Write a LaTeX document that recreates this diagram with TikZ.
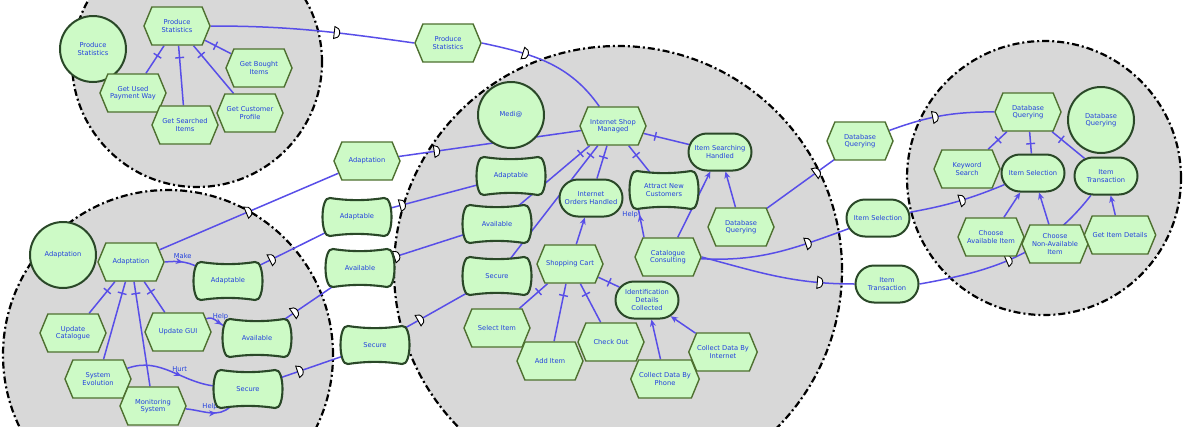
\documentclass[tikz,border=0pt]{standalone}
\usepackage{fontspec}
\newfontfamily\lblfont{DejaVu Sans}
\usetikzlibrary{shapes.symbols,shapes.misc,arrows.meta,decorations.markings}
\pgfdeclarelayer{bg}
\pgfdeclarelayer{links}
\pgfsetlayers{bg,links,main}

\definecolor{nodegreen}{RGB}{205,250,198}
\definecolor{boundgray}{RGB}{216,216,216}
\definecolor{gdark}{RGB}{42,72,40}
\definecolor{tolive}{RGB}{78,112,48}
\definecolor{linkblue}{RGB}{88,78,232}
\definecolor{txtblue}{RGB}{34,64,222}

\tikzset{
  nodetext/.style={font=\lblfont\fontsize{6.7}{7.6}\selectfont, text=txtblue, align=center},
  boundary/.style={draw=black, line width=2.2pt, fill=boundgray,
    dash pattern=on 7pt off 3pt on 2pt off 3pt},
  actor/.style={nodetext, circle, draw=gdark, line width=2pt, fill=nodegreen,
    minimum size=66pt, inner sep=0pt},
  task/.style={nodetext, signal, signal to=east and west, signal pointer angle=135,
    draw=tolive, line width=1.4pt, fill=nodegreen,
    minimum width=66pt, minimum height=38pt, inner sep=0.5pt},
  goal/.style={nodetext, rounded rectangle, draw=gdark, line width=2pt, fill=nodegreen,
    minimum width=64pt, minimum height=37pt, inner sep=0.5pt},
  sgshape/.style={draw=gdark, line width=2.1pt, fill=nodegreen},
  sgbox/.style={nodetext, rectangle, minimum width=62pt, minimum height=34pt, inner sep=0pt},
  lbl/.style={nodetext, inner sep=1pt},
  link/.style={draw=linkblue, line width=1.5pt},
  deplink/.style={link, postaction={decorate, decoration={markings,
    mark=at position #1 with {\draw[black, line width=0.9pt, fill=white]
      (-3pt,-6pt) -- (-3pt,6pt) arc[start angle=90, end angle=-90, x radius=5.5pt, y radius=6pt] -- cycle;}}}},
  decomp/.style={link, postaction={decorate, decoration={markings,
    mark=at position -12pt with {\draw[linkblue, line width=1.4pt] (0,-4.5pt) -- (0,4.5pt);}}}},
  meansend/.style={link, -{Stealth[length=7pt,width=6pt]}},
  contrib/.style={link, postaction={decorate, decoration={markings,
    mark=at position #1 with {\arrow{Stealth[length=7pt,width=6pt]}}}}},
}

% softgoal: wavy box drawn under a named text node
\newcommand\sgoal[3]{%
  \begin{scope}[shift={#2}]
    \path[sgshape] (-27,19) .. controls (-9,16.2) and (9,16.2) .. (27,19)
      .. controls (37,21) and (37,-21) .. (27,-19)
      .. controls (9,-16.2) and (-9,-16.2) .. (-27,-19)
      .. controls (-37,-21) and (-37,21) .. cycle;
  \end{scope}
  \node[sgbox] (#1) at #2 {#3};}

\begin{document}
\begin{tikzpicture}[x=1pt,y=1pt]
\useasboundingbox (0,0) rectangle (1186,-426);

% actor boundaries
\begin{pgfonlayer}{bg}
  \fill[white] (0,0) rectangle (1186,-426);
  \path[boundary] (197,-62) circle[radius=125pt];
  \path[boundary] (168,-355) circle[radius=165pt];
  \path[boundary] (618,-270) circle[radius=224pt];
  \path[boundary] (1044,-178) circle[radius=137pt];
\end{pgfonlayer}

% statistics actor
\node[actor] (psA) at (93,-49) {Produce\\Statistics};
\node[task] (psT) at (177,-26) {Produce\\Statistics};
\node[task] (gbi) at (259,-68) {Get Bought\\Items};
\node[task] (gup) at (133,-93) {Get Used\\Payment Way};
\node[task] (gsi) at (185,-125) {Get Searched\\Items};
\node[task] (gcp) at (250,-113) {Get Customer\\Profile};

% adaptation actor
\node[actor] (adA) at (63,-255) {Adaptation};
\node[task] (adT) at (131,-262) {Adaptation};
\sgoal{agL}{(228,-281)}{Adaptable}
\node[task] (ucat) at (73,-333) {Update\\Catalogue};
\node[task] (ugui) at (178,-332) {Update GUI};
\sgoal{avL}{(257,-338)}{Available}
\node[task] (sev) at (98,-379) {System\\Evolution};
\node[task] (mon) at (153,-406) {Monitoring\\System};
\sgoal{seL}{(248,-389)}{Secure}

% dependums between the actors
\node[task] (psD) at (448,-43) {Produce\\Statistics};
\node[task] (adD) at (367,-161) {Adaptation};
\sgoal{agD}{(357,-217)}{Adaptable}
\sgoal{avD}{(360,-268)}{Available}
\sgoal{seD}{(375,-345)}{Secure}
\node[task] (dqD) at (860,-141) {Database\\Querying};
\node[goal] (isD) at (878,-218) {Item Selection};
\node[goal] (itD) at (887,-284) {Item\\Transaction};

% shop actor
\node[actor] (medA) at (511,-115) {Medi@};
\node[task] (ism) at (613,-126) {Internet Shop\\Managed};
\node[goal] (ish) at (720,-152) {Item Searching\\Handled};
\sgoal{agC}{(511,-176)}{Adaptable}
\node[goal] (ioh) at (591,-198) {Internet\\Orders Handled};
\sgoal{anc}{(664,-190)}{Attract New\\Customers}
\sgoal{avC}{(497,-224)}{Available}
\sgoal{seC}{(497,-276)}{Secure}
\node[task] (dqC) at (741,-227) {Database\\Querying};
\node[task] (cc) at (668,-257) {Catalogue\\Consulting};
\node[task] (sc) at (570,-264) {Shopping Cart};
\node[goal] (idc) at (647,-300) {Identification\\Details\\Collected};
\node[task] (si) at (497,-328) {Select Item};
\node[task] (co) at (611,-342) {Check Out};
\node[task] (ai) at (550,-361) {Add Item};
\node[task] (cdi) at (723,-352) {Collect Data By\\Internet};
\node[task] (cdp) at (665,-379) {Collect Data By\\Phone};

% database actor
\node[task] (dqR) at (1028,-112) {Database\\Querying};
\node[actor] (dqA) at (1101,-120) {Database\\Querying};
\node[task] (ks) at (967,-169) {Keyword\\Search};
\node[goal] (isR) at (1033,-173) {Item Selection};
\node[goal] (itR) at (1106,-176) {Item\\Transaction};
\node[task] (cai) at (991,-237) {Choose\\Available Item};
\node[task] (cnai) at (1055,-244) {Choose\\Non-Available\\Item};
\node[task] (gid) at (1120,-235) {Get Item Details};

\begin{pgfonlayer}{links}
  % dependencies
  \draw[deplink=0.62] (psT.east) to[out=0,in=172] (psD.west);
  \draw[deplink=0.33] (psD.east) to[out=-12,in=125] (ism);
  \draw[deplink=0.5] (adT) -- (adD);
  \draw[deplink=0.21] (adD) -- (ism);
  \draw[deplink=0.2] (agL) -- (agD);
  \draw[deplink=0.16] (agD) -- (agC);
  \draw[deplink=0.25] (avL) -- (avD);
  \draw[deplink=0.08] (avD) -- (avC);
  \draw[deplink=0.33] (seL) -- (seD);
  \draw[deplink=0.25] (seD) -- (seC);
  \draw[deplink=0.75] (dqC) -- (dqD);
  \draw[deplink=0.45] (dqD) to[bend left=10] (dqR);
  \draw[deplink=0.72] (cc) to[out=-3,in=200] (isD);
  \draw[deplink=0.55] (isD) to[bend right=6] (isR);
  \draw[deplink=0.78] (cc.east) to[out=-15,in=180] (itD.west);
  \draw[deplink=0.47] (itD.east) to[out=10,in=-128] (itR);

  % decompositions
  \foreach \c in {gup,gsi,gcp,gbi} \draw[decomp] (\c) -- (psT);
  \foreach \c in {ucat,sev,mon,ugui} \draw[decomp] (\c) -- (adT);
  \foreach \c in {avC,seC,ioh,anc,ish} \draw[decomp] (\c) -- (ism);
  \foreach \c in {si,ai,co,idc} \draw[decomp] (\c) -- (sc);
  \foreach \c in {ks,isR,itR} \draw[decomp] (\c) -- (dqR);

  % means-ends
  \draw[meansend] (sc) -- (ioh);
  \draw[meansend] (cc) -- (ish);
  \draw[meansend] (dqC) -- (ish);
  \draw[meansend] (cdp) -- (idc);
  \draw[meansend] (cdi) -- (idc);
  \draw[meansend] (cai) -- (isR);
  \draw[meansend] (cnai) -- (isR);
  \draw[meansend] (gid) -- (itR);

  % contributions
  \draw[contrib=0.55] (adT.east) to[out=5,in=155]
    node[lbl, pos=0.55, above=2pt] (lmake) {Make} (agL);
  \draw[contrib=0.8] (ugui) to[out=25,in=160]
    node[lbl, pos=0.75, above=2pt] (lhelpa) {Help} (avL);
  \draw[contrib=0.6] (sev) to[out=20,in=175]
    node[lbl, pos=0.6, above=2pt] (lhurt) {Hurt} (seL);
  \draw[contrib=0.65] (mon) to[out=-5,in=225]
    node[lbl, pos=0.5, above=1pt] (lhelpb) {Help} (seL);
  \draw[contrib=0.75] ([xshift=-24pt]cc.north) -- ([xshift=-26pt]anc.south)
    node[lbl, pos=0.75, left=0pt] (lhelpc) {Help};
\end{pgfonlayer}
\end{tikzpicture}
\end{document}
